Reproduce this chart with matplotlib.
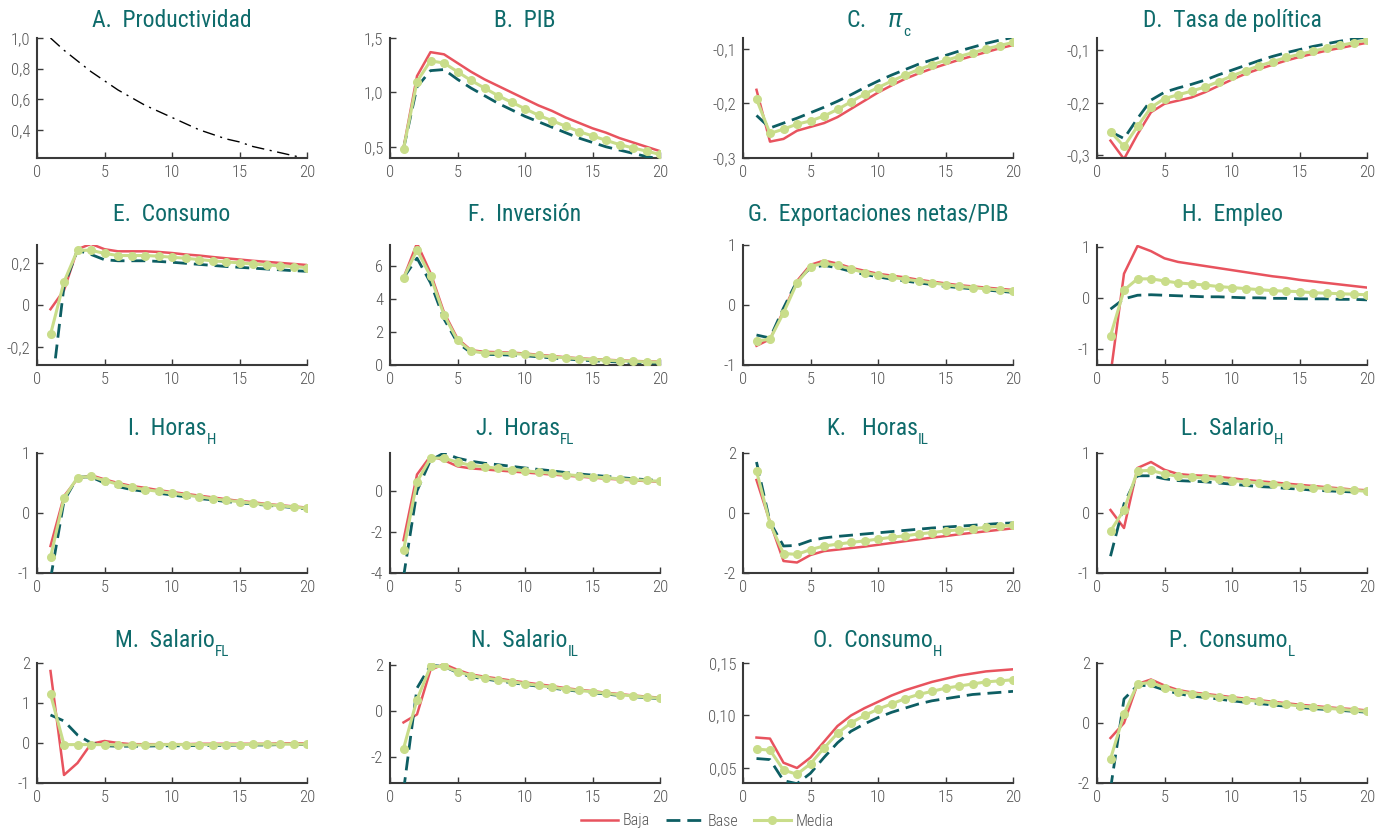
import matplotlib
matplotlib.use("Agg")
import matplotlib.pyplot as plt
from matplotlib.lines import Line2D

plt.rcParams['font.family'] = ['Roboto Condensed', 'Liberation Sans Narrow', 'DejaVu Sans']
plt.rcParams['mathtext.fontset'] = 'custom'
plt.rcParams['mathtext.rm'] = 'DejaVu Sans'
plt.rcParams['mathtext.it'] = 'DejaVu Sans:italic'

periods = list(range(1, 21))

productividad = [1.00, 0.92, 0.85, 0.78, 0.72, 0.66, 0.61, 0.56, 0.52, 0.48,
                 0.44, 0.40, 0.37, 0.34, 0.32, 0.29, 0.27, 0.25, 0.23, 0.21]

pib_baja = [0.49, 1.15, 1.37, 1.35, 1.27, 1.19, 1.12, 1.06, 1.00, 0.94,
            0.88, 0.83, 0.77, 0.72, 0.67, 0.63, 0.58, 0.54, 0.50, 0.46]
pib_base = [0.48, 1.05, 1.20, 1.21, 1.12, 1.04, 0.97, 0.90, 0.84, 0.78,
            0.73, 0.68, 0.63, 0.58, 0.54, 0.50, 0.47, 0.44, 0.41, 0.39]
pib_media = [0.48, 1.10, 1.29, 1.27, 1.19, 1.11, 1.04, 0.97, 0.91, 0.85,
             0.79, 0.74, 0.69, 0.64, 0.60, 0.56, 0.52, 0.49, 0.46, 0.43]

pic_baja = [-0.175, -0.270, -0.265, -0.250, -0.243, -0.236, -0.225, -0.210, -0.195, -0.180,
            -0.167, -0.155, -0.145, -0.136, -0.128, -0.120, -0.113, -0.106, -0.099, -0.093]
pic_base = [-0.222, -0.245, -0.236, -0.227, -0.217, -0.207, -0.196, -0.184, -0.171, -0.159,
            -0.148, -0.138, -0.128, -0.120, -0.112, -0.104, -0.097, -0.090, -0.084, -0.079]
pic_media = [-0.192, -0.255, -0.247, -0.238, -0.232, -0.223, -0.211, -0.197, -0.183, -0.171,
             -0.159, -0.148, -0.138, -0.129, -0.121, -0.114, -0.107, -0.100, -0.094, -0.088]

tasa_baja = [-0.272, -0.307, -0.260, -0.218, -0.202, -0.196, -0.190, -0.180, -0.168, -0.156,
             -0.145, -0.136, -0.128, -0.120, -0.113, -0.107, -0.101, -0.096, -0.091, -0.086]
tasa_base = [-0.255, -0.268, -0.230, -0.195, -0.180, -0.172, -0.165, -0.157, -0.147, -0.138,
             -0.129, -0.120, -0.112, -0.105, -0.099, -0.093, -0.088, -0.083, -0.079, -0.075]
tasa_media = [-0.255, -0.283, -0.245, -0.209, -0.192, -0.185, -0.178, -0.170, -0.160, -0.149,
              -0.139, -0.130, -0.122, -0.114, -0.108, -0.102, -0.096, -0.091, -0.086, -0.081]

cons_baja = [-0.02, 0.07, 0.265, 0.29, 0.265, 0.255, 0.255, 0.255, 0.252, 0.247,
             0.240, 0.235, 0.228, 0.222, 0.216, 0.210, 0.205, 0.200, 0.195, 0.190]
cons_base = [-0.45, 0.09, 0.26, 0.24, 0.215, 0.21, 0.21, 0.21, 0.207, 0.203,
             0.198, 0.193, 0.188, 0.183, 0.179, 0.175, 0.171, 0.167, 0.163, 0.160]
cons_media = [-0.14, 0.11, 0.26, 0.26, 0.245, 0.235, 0.235, 0.235, 0.232, 0.227,
              0.222, 0.216, 0.210, 0.205, 0.200, 0.195, 0.190, 0.186, 0.182, 0.178]

inv_baja = [5.3, 7.4, 5.6, 3.2, 1.6, 0.9, 0.80, 0.78, 0.75, 0.70,
            0.62, 0.55, 0.47, 0.41, 0.36, 0.32, 0.28, 0.25, 0.22, 0.20]
inv_base = [5.3, 6.5, 5.0, 2.8, 1.35, 0.75, 0.65, 0.63, 0.60, 0.56,
            0.50, 0.43, 0.37, 0.31, 0.26, 0.22, 0.18, 0.15, 0.12, 0.10]
inv_media = [5.3, 7.0, 5.4, 3.05, 1.5, 0.85, 0.72, 0.72, 0.70, 0.65,
             0.58, 0.50, 0.44, 0.38, 0.33, 0.29, 0.25, 0.22, 0.19, 0.17]

xn_baja = [-0.68, -0.57, -0.10, 0.40, 0.67, 0.74, 0.69, 0.62, 0.57, 0.52,
           0.49, 0.46, 0.42, 0.39, 0.36, 0.33, 0.31, 0.29, 0.27, 0.25]
xn_base = [-0.50, -0.55, -0.05, 0.40, 0.62, 0.66, 0.62, 0.56, 0.51, 0.47,
           0.43, 0.40, 0.37, 0.34, 0.31, 0.29, 0.27, 0.25, 0.23, 0.21]
xn_media = [-0.60, -0.57, -0.13, 0.37, 0.64, 0.70, 0.66, 0.60, 0.54, 0.50,
            0.46, 0.43, 0.40, 0.37, 0.34, 0.31, 0.29, 0.27, 0.25, 0.23]

emp_baja = [-1.50, 0.47, 1.01, 0.91, 0.77, 0.70, 0.66, 0.62, 0.58, 0.54,
            0.50, 0.46, 0.42, 0.39, 0.35, 0.32, 0.29, 0.26, 0.23, 0.20]
emp_base = [-0.22, -0.02, 0.05, 0.06, 0.05, 0.04, 0.03, 0.02, 0.02, 0.01,
            0.00, 0.00, -0.01, -0.01, -0.02, -0.02, -0.02, -0.03, -0.03, -0.04]
emp_media = [-0.74, 0.15, 0.37, 0.37, 0.33, 0.29, 0.27, 0.25, 0.22, 0.20,
             0.18, 0.16, 0.14, 0.13, 0.12, 0.10, 0.09, 0.08, 0.07, 0.06]

hh_baja = [-0.55, 0.28, 0.57, 0.63, 0.56, 0.50, 0.45, 0.42, 0.38, 0.35,
           0.32, 0.29, 0.26, 0.23, 0.20, 0.18, 0.15, 0.13, 0.11, 0.09]
hh_base = [-1.10, 0.20, 0.60, 0.60, 0.50, 0.44, 0.39, 0.36, 0.33, 0.30,
           0.27, 0.24, 0.22, 0.19, 0.17, 0.15, 0.13, 0.11, 0.09, 0.07]
hh_media = [-0.74, 0.25, 0.59, 0.61, 0.54, 0.48, 0.43, 0.39, 0.36, 0.33,
            0.30, 0.27, 0.24, 0.21, 0.19, 0.16, 0.14, 0.12, 0.10, 0.08]

hfl_baja = [-2.4, 0.8, 1.7, 1.5, 1.2, 1.1, 1.05, 1.0, 0.95, 0.90,
            0.85, 0.80, 0.75, 0.70, 0.65, 0.60, 0.56, 0.52, 0.48, 0.45]
hfl_base = [-4.2, 0.0, 1.5, 1.85, 1.6, 1.45, 1.35, 1.28, 1.20, 1.12,
            1.05, 0.98, 0.90, 0.83, 0.77, 0.71, 0.65, 0.60, 0.55, 0.50]
hfl_media = [-2.9, 0.45, 1.6, 1.6, 1.4, 1.25, 1.18, 1.10, 1.04, 0.98,
             0.92, 0.86, 0.80, 0.74, 0.69, 0.64, 0.59, 0.55, 0.51, 0.47]

hil_baja = [1.10, -0.30, -1.60, -1.65, -1.40, -1.27, -1.22, -1.17, -1.12, -1.06,
            -1.00, -0.94, -0.88, -0.82, -0.77, -0.71, -0.66, -0.61, -0.56, -0.51]
hil_base = [1.70, -0.30, -1.10, -1.08, -0.92, -0.83, -0.78, -0.74, -0.70, -0.66,
            -0.62, -0.58, -0.54, -0.50, -0.47, -0.44, -0.41, -0.38, -0.35, -0.33]
hil_media = [1.40, -0.35, -1.35, -1.38, -1.22, -1.10, -1.04, -0.98, -0.93, -0.87,
             -0.81, -0.76, -0.70, -0.65, -0.60, -0.56, -0.52, -0.48, -0.44, -0.41]

wh_baja = [0.05, -0.25, 0.75, 0.85, 0.72, 0.65, 0.63, 0.62, 0.60, 0.58,
           0.55, 0.53, 0.51, 0.49, 0.47, 0.45, 0.43, 0.41, 0.39, 0.38]
wh_base = [-0.72, 0.15, 0.62, 0.62, 0.57, 0.54, 0.53, 0.52, 0.50, 0.48,
           0.46, 0.44, 0.43, 0.41, 0.40, 0.38, 0.37, 0.36, 0.35, 0.34]
wh_media = [-0.30, 0.05, 0.70, 0.71, 0.65, 0.61, 0.60, 0.58, 0.56, 0.54,
            0.52, 0.50, 0.48, 0.46, 0.44, 0.42, 0.41, 0.39, 0.38, 0.36]

wfl_baja = [1.80, -0.80, -0.50, -0.02, 0.05, 0.00, -0.03, -0.03, -0.03, -0.03,
            -0.03, -0.02, -0.02, -0.02, -0.02, -0.02, -0.02, -0.01, -0.01, -0.01]
wfl_base = [0.70, 0.55, 0.20, 0.00, -0.07, -0.08, -0.08, -0.08, -0.07, -0.07,
            -0.07, -0.06, -0.06, -0.06, -0.05, -0.05, -0.05, -0.04, -0.04, -0.04]
wfl_media = [1.22, -0.04, -0.04, -0.04, -0.04, -0.05, -0.05, -0.05, -0.04, -0.04,
             -0.04, -0.04, -0.04, -0.04, -0.04, -0.03, -0.03, -0.03, -0.03, -0.03]

wil_baja = [-0.50, -0.15, 1.80, 2.05, 1.80, 1.60, 1.50, 1.42, 1.33, 1.25,
            1.17, 1.09, 1.00, 0.93, 0.87, 0.80, 0.74, 0.68, 0.63, 0.58]
wil_base = [-3.50, 1.00, 2.00, 1.95, 1.68, 1.50, 1.40, 1.32, 1.24, 1.16,
            1.08, 1.00, 0.93, 0.86, 0.80, 0.74, 0.68, 0.63, 0.58, 0.54]
wil_media = [-1.65, 0.50, 1.95, 1.95, 1.72, 1.55, 1.45, 1.36, 1.28, 1.20,
             1.12, 1.04, 0.96, 0.90, 0.84, 0.77, 0.71, 0.66, 0.60, 0.56]

ch_baja = [0.079, 0.078, 0.055, 0.050, 0.060, 0.075, 0.090, 0.100, 0.107, 0.113,
           0.119, 0.124, 0.128, 0.132, 0.135, 0.138, 0.140, 0.142, 0.143, 0.144]
ch_base = [0.059, 0.058, 0.038, 0.035, 0.045, 0.060, 0.074, 0.085, 0.092, 0.098,
           0.103, 0.107, 0.111, 0.114, 0.116, 0.118, 0.120, 0.121, 0.122, 0.123]
ch_media = [0.068, 0.067, 0.048, 0.044, 0.054, 0.069, 0.083, 0.093, 0.100, 0.106,
            0.111, 0.116, 0.120, 0.123, 0.126, 0.128, 0.130, 0.132, 0.133, 0.134]

cl_baja = [-0.50, 0.00, 1.30, 1.45, 1.25, 1.10, 1.02, 0.97, 0.92, 0.86,
           0.81, 0.76, 0.71, 0.66, 0.61, 0.57, 0.53, 0.49, 0.46, 0.42]
cl_base = [-2.20, 0.80, 1.25, 1.25, 1.10, 0.98, 0.90, 0.85, 0.80, 0.74,
           0.69, 0.65, 0.60, 0.56, 0.52, 0.48, 0.45, 0.42, 0.39, 0.36]
cl_media = [-1.20, 0.30, 1.30, 1.35, 1.18, 1.05, 0.98, 0.93, 0.88, 0.82,
            0.77, 0.72, 0.67, 0.62, 0.57, 0.53, 0.49, 0.46, 0.42, 0.39]

# panel titles: main text and subscript (empty when there is none)
titles = [
    ("A.  Productividad", ""), ("B.  PIB", ""), (r"C.    $\pi$", "c"),
    ("D.  Tasa de política", ""),
    ("E.  Consumo", ""), ("F.  Inversión", ""), ("G.  Exportaciones netas/PIB", ""),
    ("H.  Empleo", ""),
    ("I.  Horas", "H"), ("J.  Horas", "FL"), ("K.   Horas", "IL"), ("L.  Salario", "H"),
    ("M.  Salario", "FL"), ("N.  Salario", "IL"), ("O.  Consumo", "H"), ("P.  Consumo", "L"),
]

series = [
    None,
    (pib_baja, pib_base, pib_media),
    (pic_baja, pic_base, pic_media),
    (tasa_baja, tasa_base, tasa_media),
    (cons_baja, cons_base, cons_media),
    (inv_baja, inv_base, inv_media),
    (xn_baja, xn_base, xn_media),
    (emp_baja, emp_base, emp_media),
    (hh_baja, hh_base, hh_media),
    (hfl_baja, hfl_base, hfl_media),
    (hil_baja, hil_base, hil_media),
    (wh_baja, wh_base, wh_media),
    (wfl_baja, wfl_base, wfl_media),
    (wil_baja, wil_base, wil_media),
    (ch_baja, ch_base, ch_media),
    (cl_baja, cl_base, cl_media),
]

y_limits = [
    (0.215, 1.0), (0.397, 1.5), (-0.30, -0.08), (-0.305, -0.077),
    (-0.285, 0.285), (0, 7.3), (-1, 1), (-1.31, 1.03),
    (-1, 1), (-4, 1.85), (-2, 2), (-1, 1),
    (-1, 2), (-3.15, 2.1), (0.0357, 0.15), (-2, 2),
]

y_ticks = [
    [0.4, 0.6, 0.8, 1.0], [0.5, 1.0, 1.5], [-0.3, -0.2, -0.1], [-0.3, -0.2, -0.1],
    [-0.2, 0, 0.2], [0, 2, 4, 6], [-1, 0, 1], [-1, 0, 1],
    [-1, 0, 1], [-4, -2, 0], [-2, 0, 2], [-1, 0, 1],
    [-1, 0, 1, 2], [-2, 0, 2], [0.05, 0.10, 0.15], [-2, 0, 2],
]
y_tick_labels = [
    ["0,4", "0,6", "0,8", "1,0"], ["0,5", "1,0", "1,5"], ["-0,3", "-0,2", "-0,1"],
    ["-0,3", "-0,2", "-0,1"], ["-0,2", "0", "0,2"], ["0", "2", "4", "6"],
    ["-1", "0", "1"], ["-1", "0", "1"], ["-1", "0", "1"], ["-4", "-2", "0"],
    ["-2", "0", "2"], ["-1", "0", "1"], ["-1", "0", "1", "2"], ["-2", "0", "2"],
    ["0,05", "0,10", "0,15"], ["-2", "0", "2"],
]

x_ticks = [0, 5, 10, 15, 20]

c_baja = "#E8535E"
c_base = "#0D5E63"
c_media = "#C9DD8A"
c_title = "#0E6B6B"
c_axis = "#555555"

W, H = 1388, 832
fig = plt.figure(figsize=(W / 100, H / 100), dpi=100)
renderer = fig.canvas.get_renderer()

col_left = [37, 390, 743, 1097]
row_bottom = [158, 365, 573, 783]
ax_w, ax_h = 270, 120
title_y = [27, 221, 435, 647]
sub_drop = 9
sub_gap = 0

for i in range(16):
    r, c = divmod(i, 4)
    ax = fig.add_axes([col_left[c] / W, 1 - row_bottom[r] / H, ax_w / W, ax_h / H])
    if series[i] is None:
        ax.plot(periods, productividad, color="black", lw=1.0, ls=(0, (9, 4, 1.5, 4)))
    else:
        b, s, m = series[i]
        ax.plot(periods, b, color=c_baja, lw=1.8, zorder=2)
        ax.plot(periods, s, color=c_base, lw=2.0, ls=(0, (5, 2.5)), zorder=3)
        ax.plot(periods, m, color=c_media, lw=2.2, marker="o", ms=5.5, zorder=4)
    ax.set_xlim(0, 20)
    ax.set_ylim(*y_limits[i])
    ax.set_xticks(x_ticks)
    ax.set_xticklabels([str(v) for v in x_ticks])
    ax.set_yticks(y_ticks[i])
    ax.set_yticklabels(y_tick_labels[i])
    for lab in ax.get_xticklabels() + ax.get_yticklabels():
        lab.set_fontweight("light")
    for side in ("top", "right"):
        ax.spines[side].set_visible(False)
    for side in ("left", "bottom"):
        ax.spines[side].set_color("#3a3a3a")
        ax.spines[side].set_linewidth(1.5)
    ax.tick_params(direction="in", length=4, width=1, color="#3a3a3a",
                   labelsize=12, labelcolor=c_axis, pad=5)
    ax.patch.set_visible(False)

    # title with a lowered subscript, the whole group centred over the panel
    main, sub = titles[i]
    cx = col_left[c] + ax_w / 2
    yb = title_y[r]
    t_main = fig.text(0, 1 - yb / H, main, ha="left", va="baseline",
                      fontsize=17, color=c_title)
    wm = t_main.get_window_extent(renderer).width
    ws = 0
    t_sub = None
    if sub:
        t_sub = fig.text(0, 1 - (yb + sub_drop) / H, sub, ha="left", va="baseline",
                         fontsize=11, color=c_title)
        ws = t_sub.get_window_extent(renderer).width + sub_gap
    x0 = cx - (wm + ws) / 2
    t_main.set_x(x0 / W)
    if t_sub is not None:
        t_sub.set_x((x0 + wm + sub_gap) / W)

handles = [
    Line2D([], [], color=c_baja, lw=1.8),
    Line2D([], [], color=c_base, lw=2.0, ls=(0, (5, 2.5))),
    Line2D([], [], color=c_media, lw=2.2, marker="o", ms=5.5),
]
leg = fig.legend(handles, ["Baja", "Base", "Media"], loc="center", ncol=3,
                 bbox_to_anchor=(0.5096, 1 - 821 / H), frameon=False, fontsize=11.5,
                 handlelength=2.3, columnspacing=1.0, handletextpad=0.3,
                 labelcolor=c_axis)
for t in leg.get_texts():
    t.set_fontweight("light")

fig.savefig("out.png", dpi=100)
